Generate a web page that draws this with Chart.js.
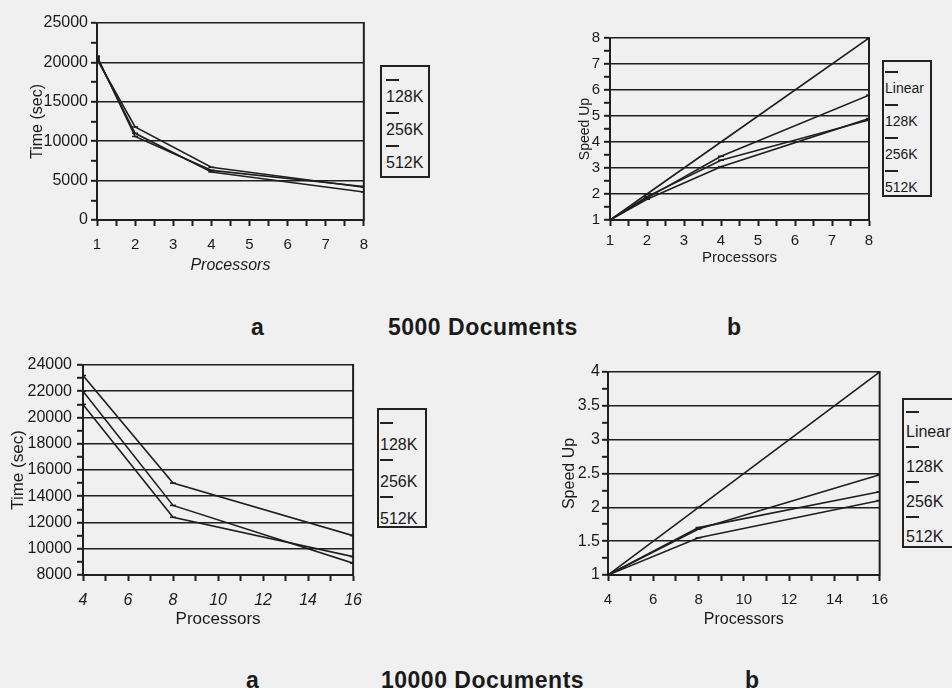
<!DOCTYPE html>
<html>
<head>
<meta charset="utf-8">
<script src="https://cdn.jsdelivr.net/npm/chart.js@4.4.0/dist/chart.umd.min.js"></script>
<style>
  html, body { margin: 0; padding: 0; }
  body {
    width: 952px; height: 688px; position: relative; overflow: hidden;
    background: #f0f0f0; color: #1a1a1a;
    font-family: 'Liberation Sans', Arial, sans-serif;
  }
  canvas { position: absolute; }
  .legend { position: absolute; border: 2px solid #222; box-sizing: border-box; }
  .mark { position: absolute; height: 2px; width: 13px; background: #222; }
  .txt { position: absolute; white-space: nowrap; line-height: 18px; }
  .cap { position: absolute; font-weight: bold; font-size: 23px; letter-spacing: 0.5px; line-height: 26px; white-space: nowrap; }
</style>
</head>
<body>
<canvas id="c1" width="378" height="285" style="left:0;top:0"></canvas>
<canvas id="c2" width="340" height="275" style="left:540px;top:0"></canvas>
<canvas id="c3" width="372" height="295" style="left:0;top:340px"></canvas>
<canvas id="c4" width="358" height="295" style="left:540px;top:340px"></canvas>

<div class="cap" style="left:251px;top:314px">a</div>
<div class="cap" style="left:388px;top:314px">5000 Documents</div>
<div class="cap" style="left:727px;top:314px">b</div>
<div class="cap" style="left:246px;top:667px">a</div>
<div class="cap" style="left:381px;top:667px">10000 Documents</div>
<div class="cap" style="left:745px;top:667px">b</div>

<script>
var INK = '#1f1f1f';

var sizeLabels = ['128K', '256K', '512K'];
var speedLabels = ['Linear', '128K', '256K', '512K'];

// 5000 documents
var procs5000 = [1, 2, 4, 8];
var time5000_128K = [20600, 11000, 6100, 3550];
var time5000_256K = [20400, 11800, 6700, 4150];
var time5000_512K = [20800, 10600, 6300, 4250];
var speed5000_linear = [1, 2, 4, 8];
var speed5000_128K = [1, 1.85, 3.45, 5.8];
var speed5000_256K = [1, 1.8, 3.05, 4.9];
var speed5000_512K = [1, 1.9, 3.3, 4.85];

// 10000 documents
var procs10000 = [4, 8, 16];
var time10000_128K = [22000, 13300, 8900];
var time10000_256K = [21000, 12400, 9400];
var time10000_512K = [23200, 15000, 11000];
var speed10000_linear = [1, 2, 4];
var speed10000_128K = [1, 1.68, 2.48];
var speed10000_256K = [1, 1.7, 2.23];
var speed10000_512K = [1, 1.55, 2.1];

// axis ranges: [min, max, minor step, labelled step]
var x5000Axis = [1, 8, 0.5, 1];
var x10000Axis = [4, 16, 1, 2];
var timeAxis5000 = [0, 25000, 2500, 5000];
var timeAxis10000 = [8000, 24000, 1000, 2000];
var speedAxis5000 = [1, 8, 0.5, 1];
var speedAxis10000 = [1, 4, 0.25, 0.5];

function isMajor(v, step) {
  return Math.abs(v / step - Math.round(v / step)) < 1e-6;
}

// right edge of the plot box
var frame = {
  id: 'frame',
  beforeDatasetsDraw: function (chart) {
    var a = chart.chartArea, ctx = chart.ctx;
    ctx.save();
    ctx.strokeStyle = INK;
    ctx.lineWidth = 2;
    ctx.beginPath();
    ctx.moveTo(a.right, a.top - 1);
    ctx.lineTo(a.right, a.bottom + 1);
    ctx.stroke();
    ctx.restore();
  }
};

function font(size, style) {
  return { family: "'Liberation Sans', Arial, sans-serif", size: size, style: style || 'normal' };
}

function makeChart(id, o) {
  var datasets = o.series.map(function (s, i) {
    return {
      label: o.labels[i],
      data: o.x.map(function (x, j) { return { x: x, y: s[j] }; })
    };
  });
  return new Chart(document.getElementById(id), {
    type: 'line',
    data: { datasets: datasets },
    plugins: [frame],
    options: {
      responsive: false,
      animation: false,
      layout: { padding: o.pad },
      plugins: { legend: { display: false }, tooltip: { enabled: false } },
      elements: {
        line: { borderColor: INK, borderWidth: 1.6, tension: 0 },
        point: { pointStyle: 'line', radius: 3, borderColor: INK, backgroundColor: INK, borderWidth: 1.6 }
      },
      scales: {
        x: {
          type: 'linear', min: o.xAxis[0], max: o.xAxis[1],
          afterFit: function (s) { s.height = o.xH; },
          border: { color: INK, width: 2 },
          grid: { drawOnChartArea: false, tickLength: 6, tickColor: INK, tickWidth: 2 },
          ticks: {
            stepSize: o.xAxis[2], autoSkip: false, maxRotation: 0, padding: o.xTickPad,
            color: '#1a1a1a', font: o.xTickFont,
            callback: function (v) { return isMajor(v, o.xAxis[3]) ? String(v) : ''; }
          },
          title: { display: true, text: 'Processors', color: '#1a1a1a', font: o.xTitleFont,
                   padding: { top: 0, bottom: o.xTitlePad } }
        },
        y: {
          min: o.yAxis[0], max: o.yAxis[1],
          afterFit: function (s) { s.width = o.yW; },
          border: { color: INK, width: 2 },
          grid: {
            color: function (c) { return c.tick && isMajor(c.tick.value, o.yAxis[3]) ? INK : 'rgba(0,0,0,0)'; },
            lineWidth: 1.6, tickLength: 6, tickColor: INK, tickWidth: 2
          },
          ticks: {
            stepSize: o.yAxis[2], autoSkip: false, padding: o.yTickPad,
            color: '#1a1a1a', font: o.yTickFont,
            callback: function (v) { return isMajor(v, o.yAxis[3]) ? String(v) : ''; }
          },
          title: { display: true, text: o.yTitle, color: '#1a1a1a', font: o.yTitleFont,
                   padding: { top: o.yTitlePad, bottom: 0 } }
        }
      }
    }
  });
}

function legend(box, labels, firstMark, period, gap, textLeft, size) {
  var b = document.createElement('div');
  b.className = 'legend';
  b.style.left = box[0] + 'px';
  b.style.top = box[1] + 'px';
  b.style.width = (box[2] - box[0]) + 'px';
  b.style.height = (box[3] - box[1]) + 'px';
  document.body.appendChild(b);
  labels.forEach(function (lab, i) {
    var my = firstMark + i * period;
    var m = document.createElement('div');
    m.className = 'mark';
    m.style.left = textLeft + 'px';
    m.style.top = (my - 1) + 'px';
    document.body.appendChild(m);
    var t = document.createElement('div');
    t.className = 'txt';
    t.textContent = lab;
    t.style.left = textLeft + 'px';
    t.style.top = (my + gap - 9) + 'px';
    t.style.fontSize = size + 'px';
    document.body.appendChild(t);
  });
}

makeChart('c1', {
  x: procs5000, labels: sizeLabels,
  series: [time5000_128K, time5000_256K, time5000_512K],
  xAxis: x5000Axis, yAxis: timeAxis5000,
  pad: { left: 0, top: 23, right: 11, bottom: 0 }, xH: 65, yW: 97,
  xTickFont: font(15), xTickPad: 10, xTitleFont: font(16, 'italic'), xTitlePad: 10,
  yTickFont: font(16), yTickPad: 3, yTitle: 'Time (sec)', yTitleFont: font(16), yTitlePad: 28
});

makeChart('c2', {
  x: procs5000, labels: speedLabels,
  series: [speed5000_linear, speed5000_128K, speed5000_256K, speed5000_512K],
  xAxis: x5000Axis, yAxis: speedAxis5000,
  pad: { left: 0, top: 38, right: 11, bottom: 0 }, xH: 55, yW: 70,
  xTickFont: font(15), xTickPad: 6, xTitleFont: font(15), xTitlePad: 8,
  yTickFont: font(15), yTickPad: 4, yTitle: 'Speed Up', yTitleFont: font(14), yTitlePad: 37
});

makeChart('c3', {
  x: procs10000, labels: sizeLabels,
  series: [time10000_128K, time10000_256K, time10000_512K],
  xAxis: x10000Axis, yAxis: timeAxis10000,
  pad: { left: 0, top: 25, right: 9, bottom: 0 }, xH: 60, yW: 83,
  xTickFont: font(16, 'italic'), xTickPad: 10, xTitleFont: font(17), xTitlePad: 5,
  yTickFont: font(16), yTickPad: 5, yTitle: 'Time (sec)', yTitleFont: font(17), yTitlePad: 8
});

makeChart('c4', {
  x: procs10000, labels: speedLabels,
  series: [speed10000_linear, speed10000_128K, speed10000_256K, speed10000_512K],
  xAxis: x10000Axis, yAxis: speedAxis10000,
  pad: { left: 0, top: 32, right: 10, bottom: 0 }, xH: 60, yW: 68,
  xTickFont: font(15), xTickPad: 10, xTitleFont: font(16), xTitlePad: 6,
  yTickFont: font(16), yTickPad: 2, yTitle: 'Speed Up', yTitleFont: font(16), yTitlePad: 20
});

legend([380, 65, 430, 178], sizeLabels, 80, 33, 17, 386, 16);
legend([882, 60, 932, 197], speedLabels, 72, 33, 16, 885, 14);
legend([377, 408, 427, 528], sizeLabels, 423, 37, 22, 380, 16);
legend([902, 398, 962, 548], speedLabels, 412, 35, 20, 906, 16);
</script>
</body>
</html>
